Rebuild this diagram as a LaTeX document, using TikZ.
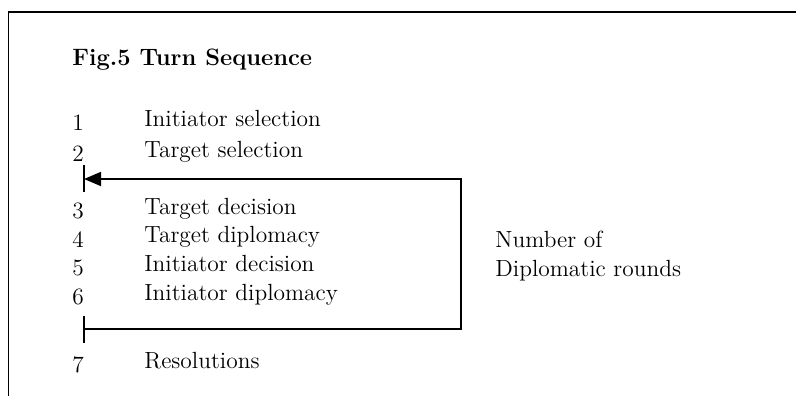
\documentclass[tikz,border=0pt]{standalone}
\usepackage{tikz}
\usetikzlibrary{arrows.meta,positioning}

\begin{document}
\begin{tikzpicture}[
            x=0.5pt, y=-0.5pt,
            entry/.style={anchor=base west, inner sep=0pt, font=\fontsize{11.7}{14}\selectfont},
            title/.style={anchor=base west, inner sep=0pt, font=\fontsize{11.85}{14}\selectfont\bfseries},
            frame/.style={line width=0.9pt},
            tick/.style={line width=0.8pt},
            loopback/.style={-{Triangle[length=8.5pt, width=7pt]}, line width=0.8pt}
        ]
        \useasboundingbox (0,0) rectangle (796,396);

        % frame, top and left only
        \draw[frame] (8.5,396) -- (8.5,12) -- (796,12);

        \node[title] (head) at (72,65) {Fig.5 Turn Sequence};

        % numbered steps
        \foreach \n/\y/\t in {1/126/Initiator selection, 2/157/Target selection,
                3/214/Target decision, 4/242.7/Target diplomacy,
                5/271.4/Initiator decision, 6/300/Initiator diplomacy,
                7/368/Resolutions} {
            \node[entry] (num\n) at (72,\y+4.5) {\n};
            \node[entry] (lbl\n) at (144,\y) {\t};
        }

        \node[entry] (rounds1) at (495,247) {Number of};
        \node[entry] (rounds2) at (495,276) {Diplomatic rounds};

        % repeat bracket
        \coordinate (top) at (84,179);
        \coordinate (bot) at (84,329);
        \coordinate (corner) at (461,329);
        \draw[tick] (84,165) -- (top) -- (84,192);
        \draw[tick] (84,316) -- (bot) -- (84,343);
        \draw[loopback] (bot) -- (corner) |- (top);

    \end{tikzpicture}
\end{document}
